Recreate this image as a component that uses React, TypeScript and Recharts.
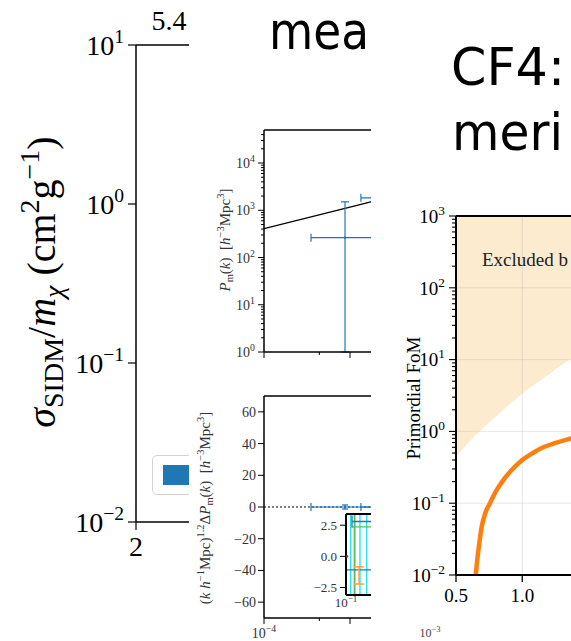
import React from 'react'
import {
  ComposedChart,
  Line,
  Area,
  Scatter,
  ErrorBar,
  XAxis,
  YAxis,
  ReferenceLine,
  ReferenceDot,
  Legend,
  CartesianGrid,
} from 'recharts'

const SERIF = '"Liberation Serif", "DejaVu Serif", serif'
const SANS = '"DejaVu Sans", "Liberation Sans", sans-serif'
const BLUE = '#1f77b4'
const ORANGE = '#ff7f0e'

// ---- left panel: SIDM cross section (mostly hidden behind the next panel)
const sidmDecades = [0.01, 0.1, 1, 10]
const sidmXTicks = [2, 4, 6, 8]
const sidmTopLabel = '5.4'
const sidmMass = [4.0, 5.0, 6.0, 7.0]
const sidmUpper = [3.0, 1.6, 0.9, 0.5]
const sidmLower = [0.01, 0.01, 0.01, 0.01]

// ---- middle panel: matter power spectrum
const kDecades = [1e-4, 1e-3, 1e-2, 1e-1]
const kTicks = [1e-4, 4.4e-4, 1e-3, 1e-2]
const kLabelled = [1e-4]
const pmDecades = [1, 10, 100, 1e3, 1e4]
const theoryK = [1e-4, 1e-3, 1e-2]
const theoryP = [410, 1170, 3350]
const binK = [8.75e-4, 3.33e-3]
const binKLo = [5.23e-4, 1.99e-3]
const binKHi = [1.3e-3, 2.5e-3]
const binP = [263, 1830]
const binPLo = [262, 900]
const binPHi = [1247, 1500]
const binResid = [0, 0]
const binResidErr = [1.3, 1.3]
const residTicks = [-60, -40, -20, 0, 20, 40, 60]

// inset of the residual plot
const insetTicks = [-2.5, 0, 2.5]
const cyanK = [0.1087, 0.1173, 0.1281, 0.1443]
const greenK = [0.1159]
const greenY = [2.37]
const blueK = [0.135, 0.2]
const blueY = [2.8, -1.08]
const blueKLo = [0.0238, 0.1]
const orangeK = [0.1259]
const orangeY = [-1.53]
const orangeErr = [0.69]
const redK = [0.1018]
const redY = [0]

// ---- right panel: primordial FoM
const fomDecades = [0.01, 0.1, 1, 10, 100, 1000]
const fomXTicks = [0.5, 1.0]
const fomX = [0.649, 0.66, 0.675, 0.694, 0.72, 0.756, 0.8, 0.857, 0.92, 1.0, 1.08, 1.158, 1.25, 1.335, 1.5, 1.75, 2.0, 2.25, 2.5]
const fomY = [0.01, 0.016, 0.027, 0.047, 0.072, 0.1, 0.145, 0.21, 0.29, 0.4, 0.5, 0.6, 0.69, 0.77, 0.9, 1.05, 1.2, 1.3, 1.4]
const edgeX = [0.5, 0.6, 0.7, 0.8, 0.9, 1.0, 1.1, 1.2, 1.3, 1.4, 1.6, 1.8, 2.0, 2.25, 2.5]
const edgeY = [0.44, 0.72, 1.1, 1.6, 2.35, 3.35, 4.6, 6.2, 8.5, 11, 18, 28, 42, 65, 100]

const SUBS = [2, 3, 4, 5, 6, 7, 8, 9]
const logMinors = (decades: number[], max: number) =>
  decades.flatMap((d) => SUBS.map((s) => s * d)).filter((v) => v < max)

const isIn = (arr: number[], v: number) => arr.some((a) => Math.abs(a - v) <= Math.abs(a) * 1e-9 + 1e-12)

const pow10 = (fs: number) => (v: number) => {
  const e = Math.round(Math.log10(v))
  return (
    <>
      <tspan>10</tspan>
      <tspan dy={-fs * 0.42} fontSize={fs * 0.7}>
        {e < 0 ? `\u2212${-e}` : `${e}`}
      </tspan>
    </>
  )
}

type TickCfg = {
  side: 'left' | 'bottom'
  majors: number[]
  label?: (v: number) => React.ReactNode
  major: number
  minor: number
  gap: number
  fs: number
  color?: string
  lw?: number
}

function tickRenderer(cfg: TickCfg) {
  const color = cfg.color ?? '#000'
  const lw = cfg.lw ?? 1
  return (p: any) => {
    const v = p.payload.value as number
    const maj = isIn(cfg.majors, v)
    const len = maj ? cfg.major : cfg.minor
    const lab = maj && cfg.label ? cfg.label(v) : null
    if (cfg.side === 'left') {
      return (
        <g>
          {len > 0 && <line x1={p.x - len} y1={p.y} x2={p.x} y2={p.y} stroke="#000" strokeWidth={lw} />}
          {lab != null && (
            <text x={p.x - len - cfg.gap} y={p.y + cfg.fs * 0.36} textAnchor="end" fontFamily={SERIF} fontSize={cfg.fs} fill={color}>
              {lab}
            </text>
          )}
        </g>
      )
    }
    return (
      <g>
        {len > 0 && <line x1={p.x} y1={p.y} x2={p.x} y2={p.y + len} stroke="#000" strokeWidth={lw} />}
        {lab != null && (
          <text x={p.x} y={p.y + len + cfg.gap + cfg.fs * 0.72} textAnchor="middle" fontFamily={SERIF} fontSize={cfg.fs} fill={color}>
            {lab}
          </text>
        )}
      </g>
    )
  }
}

const noTickLine = { tickSize: 0, tickMargin: 0, tickLine: false, interval: 0 as const, allowDataOverflow: true }

function SidmLegend(props: any) {
  const c = props.payload?.[0]?.color ?? BLUE
  return (
    <div
      style={{
        position: 'relative',
        width: 140,
        height: 40,
        boxSizing: 'border-box',
        border: '1.5px solid #d4d4d4',
        borderRadius: 5,
        background: 'rgba(255,255,255,0.8)',
      }}
    >
      <div style={{ position: 'absolute', left: 10, top: 9, width: 60, height: 20, background: c }} />
    </div>
  )
}

function SidmPanel() {
  const rows = sidmMass.map((m, i) => ({ m, band: [sidmLower[i], sidmUpper[i]] }))
  const spine = { stroke: '#000', strokeWidth: 1.5 }
  return (
    <div style={{ position: 'absolute', left: 0, top: 0, width: 560, height: 641 }}>
      <ComposedChart width={560} height={641} margin={{ top: 0, right: 20, bottom: 0, left: 0 }}>
        <XAxis
          dataKey="m"
          type="number"
          domain={[2, 8]}
          ticks={sidmXTicks}
          height={119}
          axisLine={spine}
          {...noTickLine}
          tick={tickRenderer({ side: 'bottom', majors: sidmXTicks, label: (v) => `${v}`, major: 8, minor: 0, gap: 6, fs: 28, lw: 1.2 })}
        />
        <XAxis xAxisId="top" orientation="top" type="number" domain={[0, 1]} height={45} tick={false} tickLine={false} axisLine={spine} />
        <YAxis
          type="number"
          scale="log"
          domain={[0.01, 10]}
          ticks={sidmDecades}
          width={136}
          axisLine={spine}
          {...noTickLine}
          tick={tickRenderer({ side: 'left', majors: sidmDecades, label: pow10(28), major: 8, minor: 0, gap: 4, fs: 28, lw: 1.2 })}
        />
        <Area data={rows} dataKey="band" fill={BLUE} stroke={BLUE} fillOpacity={1} isAnimationActive={false} />
        <Legend
          content={SidmLegend}
          layout="horizontal"
          verticalAlign="middle"
          align="center"
          wrapperStyle={{ left: 152, top: 455, width: 140, height: 40 }}
        />
      </ComposedChart>
      <svg width={200} height={641} style={{ position: 'absolute', left: 0, top: 0 }}>
        <text x={169} y={30} textAnchor="middle" fontFamily={SERIF} fontSize={28} fill="#000">
          {sidmTopLabel}
        </text>
        <text transform="translate(55,282) rotate(-90)" textAnchor="middle" fontFamily={SERIF} fontSize={40} fill="#000">
          <tspan fontStyle="italic">σ</tspan>
          <tspan fontSize={28} dy={8}>SIDM</tspan>
          <tspan dy={-8}>/</tspan>
          <tspan fontStyle="italic">m</tspan>
          <tspan fontStyle="italic" fontSize={28} dy={8}>χ</tspan>
          <tspan dy={-8}>{'\u00a0(cm'}</tspan>
          <tspan fontSize={28} dy={-16}>2</tspan>
          <tspan dy={16}>g</tspan>
          <tspan fontSize={28} dy={-16}>−1</tspan>
          <tspan dy={16}>)</tspan>
        </text>
      </svg>
    </div>
  )
}

function PowerPanel() {
  const bins = binK.map((k, i) => ({
    k,
    p: binP[i],
    ek: [binKLo[i], binKHi[i]],
    ep: [binPLo[i], binPHi[i]],
    d: binResid[i],
    ed: binResidErr[i],
  }))
  const theory = theoryK.map((k, i) => ({ k, p: theoryP[i] }))
  const cyan = cyanK.map((k) => ({ k, y: 0, ey: [3.1, 3.4] }))
  const green = greenK.map((k, i) => ({ k, y: greenY[i], ey: [greenY[i] + 3.1, 3.4 - greenY[i]], ex: [0.0047, 0.08] }))
  const blue = blueK.map((k, i) => ({ k, y: blueY[i], ex: [blueKLo[i], 0.1] }))
  const orange = orangeK.map((k, i) => ({ k, y: orangeY[i], ey: orangeErr[i] }))
  const red = redK.map((k, i) => ({ k, y: redY[i] }))

  const spine = { stroke: '#000', strokeWidth: 1.5 }
  const pmTicks = [...pmDecades, ...logMinors(pmDecades, 5e4)]
  const dot = (c: string, r: number) => (p: any) => <circle cx={p.cx} cy={p.cy} r={r} fill={c} />
  const none = () => <g />

  return (
    <div style={{ position: 'absolute', left: 189, top: 0, width: 382, height: 641, background: '#fff', overflow: 'hidden' }}>
      <div style={{ position: 'absolute', left: 0, top: 0 }}>
        <ComposedChart width={382} height={392} margin={{ top: 100, right: 49, bottom: 0, left: 0 }}>
          <XAxis
            dataKey="k"
            type="number"
            scale="log"
            domain={[1e-4, 1e-1]}
            ticks={kTicks}
            height={40}
            axisLine={spine}
            {...noTickLine}
            tick={tickRenderer({ side: 'bottom', majors: kDecades, major: 6, minor: 3, gap: 3, fs: 14 })}
          />
          <XAxis xAxisId="top" orientation="top" type="number" domain={[0, 1]} height={30} tick={false} tickLine={false} axisLine={spine} />
          <YAxis
            type="number"
            scale="log"
            domain={[1, 5e4]}
            ticks={pmTicks}
            width={75}
            axisLine={spine}
            {...noTickLine}
            tick={tickRenderer({ side: 'left', majors: pmDecades, label: pow10(14), major: 6, minor: 3, gap: 3, fs: 14, color: '#333' })}
          />
          <Line data={theory} dataKey="p" stroke="#000" strokeWidth={1.3} dot={false} type="linear" isAnimationActive={false} />
          <Scatter data={bins} dataKey="p" fill={BLUE} shape={dot(BLUE, 1.2)} isAnimationActive={false}>
            <ErrorBar dataKey="ek" direction="x" stroke={BLUE} strokeWidth={1.2} width={4} />
            <ErrorBar dataKey="ep" direction="y" stroke={BLUE} strokeWidth={1.2} width={4} />
          </Scatter>
        </ComposedChart>
      </div>

      <div style={{ position: 'absolute', left: 0, top: 0 }}>
        <ComposedChart width={382} height={641} margin={{ top: 366, right: 49, bottom: 0, left: 0 }}>
          <XAxis
            dataKey="k"
            type="number"
            scale="log"
            domain={[1e-4, 1e-1]}
            ticks={kTicks}
            height={23}
            axisLine={spine}
            {...noTickLine}
            tick={tickRenderer({
              side: 'bottom',
              majors: kDecades,
              label: (v) => (isIn(kLabelled, v) ? pow10(14)(v) : null),
              major: 6,
              minor: 3,
              gap: 4,
              fs: 14,
              color: '#333',
            })}
          />
          <XAxis xAxisId="top" orientation="top" type="number" domain={[0, 1]} height={30} tick={false} tickLine={false} axisLine={spine} />
          <YAxis
            type="number"
            domain={[-70, 70]}
            ticks={residTicks}
            width={75}
            axisLine={spine}
            {...noTickLine}
            tick={tickRenderer({
              side: 'left',
              majors: residTicks,
              label: (v) => (v < 0 ? `\u2212${-v}` : `${v}`),
              major: 6,
              minor: 0,
              gap: 2,
              fs: 14,
              color: '#333',
            })}
          />
          <ReferenceLine y={0} stroke="#000" strokeWidth={1} strokeDasharray="2 2" />
          <Scatter data={bins} dataKey="d" fill={BLUE} shape={dot(BLUE, 1.2)} isAnimationActive={false}>
            <ErrorBar dataKey="ek" direction="x" stroke={BLUE} strokeWidth={1.2} width={4} />
            <ErrorBar dataKey="ed" direction="y" stroke={BLUE} strokeWidth={1.2} width={3} />
          </Scatter>
        </ComposedChart>
      </div>

      <div style={{ position: 'absolute', left: 100, top: 500 }}>
        <ComposedChart width={282} height={141} margin={{ top: 0, right: 95, bottom: 0, left: 0 }}>
          <CartesianGrid fill="#fff" horizontal={false} vertical={false} />
          <XAxis
            dataKey="k"
            type="number"
            scale="log"
            domain={[0.1, 1]}
            ticks={[0.1]}
            height={46}
            axisLine={{ stroke: '#000', strokeWidth: 2 }}
            {...noTickLine}
            tick={tickRenderer({ side: 'bottom', majors: [0.1], label: pow10(13), major: 0, minor: 0, gap: 3, fs: 13, color: '#333' })}
          />
          <XAxis xAxisId="top" orientation="top" type="number" domain={[0, 1]} height={14} tick={false} tickLine={false} axisLine={{ stroke: '#000', strokeWidth: 2 }} />
          <YAxis
            type="number"
            domain={[-3.1, 3.4]}
            ticks={insetTicks}
            width={57}
            axisLine={{ stroke: '#000', strokeWidth: 2 }}
            {...noTickLine}
            tick={tickRenderer({
              side: 'left',
              majors: insetTicks,
              label: (v) => (v < 0 ? `\u2212${(-v).toFixed(1)}` : v.toFixed(1)),
              major: 6,
              minor: 0,
              gap: 3,
              fs: 13,
              color: '#333',
            })}
          />
          <Scatter data={cyan} dataKey="y" shape={none} isAnimationActive={false}>
            <ErrorBar dataKey="ey" direction="y" stroke="#19e3f5" strokeWidth={1.3} width={0} />
          </Scatter>
          <Scatter data={green} dataKey="y" shape={none} isAnimationActive={false}>
            <ErrorBar dataKey="ey" direction="y" stroke="#5cb85c" strokeWidth={1.3} width={0} />
            <ErrorBar dataKey="ex" direction="x" stroke="#5cb85c" strokeWidth={1.3} width={0} />
          </Scatter>
          <Scatter data={blue} dataKey="y" shape={none} isAnimationActive={false}>
            <ErrorBar dataKey="ex" direction="x" stroke={BLUE} strokeWidth={1.3} width={6} />
          </Scatter>
          <Scatter data={orange} dataKey="y" shape={none} isAnimationActive={false}>
            <ErrorBar dataKey="ey" direction="y" stroke="#ff9f45" strokeWidth={1.5} width={5} />
          </Scatter>
          <Scatter data={red} dataKey="y" shape={dot('#b03020', 1.3)} isAnimationActive={false} />
        </ComposedChart>
      </div>

      <svg width={382} height={641} style={{ position: 'absolute', left: 0, top: 0, pointerEvents: 'none' }}>
        <text x={80} y={49} fontFamily={SANS} fontSize={52} textLength={100} lengthAdjust="spacingAndGlyphs" fill="#000">
          mea
        </text>
        <text transform="translate(41,240) rotate(-90)" textAnchor="middle" fontFamily={SERIF} fontSize={15} fill="#333">
          <tspan fontStyle="italic">P</tspan>
          <tspan fontSize={10.5} dy={3}>m</tspan>
          <tspan dy={-3}>(</tspan>
          <tspan fontStyle="italic">k</tspan>
          <tspan>{')\u00a0\u00a0['}</tspan>
          <tspan fontStyle="italic">h</tspan>
          <tspan fontSize={10.5} dy={-6}>−3</tspan>
          <tspan dy={6}>Mpc</tspan>
          <tspan fontSize={10.5} dy={-6}>3</tspan>
          <tspan dy={6}>]</tspan>
        </text>
        <text transform="translate(21,508) rotate(-90)" textAnchor="middle" fontFamily={SERIF} fontSize={15} fill="#333">
          <tspan>(</tspan>
          <tspan fontStyle="italic">k</tspan>
          <tspan fontStyle="italic">{'\u00a0h'}</tspan>
          <tspan fontSize={10.5} dy={-6}>−1</tspan>
          <tspan dy={6}>Mpc)</tspan>
          <tspan fontSize={10.5} dy={-6}>1.2</tspan>
          <tspan dy={6}>Δ</tspan>
          <tspan fontStyle="italic">P</tspan>
          <tspan fontSize={10.5} dy={3}>m</tspan>
          <tspan dy={-3}>(</tspan>
          <tspan fontStyle="italic">k</tspan>
          <tspan>{')\u00a0\u00a0['}</tspan>
          <tspan fontStyle="italic">h</tspan>
          <tspan fontSize={10.5} dy={-6}>−3</tspan>
          <tspan dy={6}>Mpc</tspan>
          <tspan fontSize={10.5} dy={-6}>3</tspan>
          <tspan dy={6}>]</tspan>
        </text>
      </svg>
    </div>
  )
}

function FomPanel() {
  const curve = fomX.map((x, i) => ({ x, fom: fomY[i] }))
  const excluded = edgeX.map((x, i) => ({ x, band: [edgeY[i], 1000] }))
  const spine = { stroke: '#000', strokeWidth: 2 }
  const yTicks = [...fomDecades, ...logMinors(fomDecades, 1000)]
  const gridY = fomDecades.slice(1, -1)
  const gridX = fomXTicks.slice(1)
  return (
    <div style={{ position: 'absolute', left: 371, top: 0, width: 200, height: 641, background: '#fff', overflow: 'hidden' }}>
      <ComposedChart width={370} height={641} margin={{ top: 200, right: 20, bottom: 0, left: 0 }}>
        <XAxis
          dataKey="x"
          type="number"
          domain={[0.5, 2.5]}
          ticks={fomXTicks}
          height={66}
          axisLine={spine}
          {...noTickLine}
          tick={tickRenderer({ side: 'bottom', majors: fomXTicks, label: (v) => v.toFixed(1), major: 7, minor: 0, gap: 6, fs: 19, lw: 1.3 })}
        />
        <XAxis xAxisId="top" orientation="top" type="number" domain={[0, 1]} height={16} tick={false} tickLine={false} axisLine={spine} />
        <YAxis
          type="number"
          scale="log"
          domain={[0.01, 1000]}
          ticks={yTicks}
          width={85}
          axisLine={spine}
          {...noTickLine}
          tick={tickRenderer({ side: 'left', majors: fomDecades, label: pow10(19), major: 7, minor: 4, gap: 4, fs: 19, lw: 1.1 })}
        />
        <Area data={excluded} dataKey="band" fill="#fdebd0" fillOpacity={1} stroke="none" type="monotone" isAnimationActive={false} />
        {gridY.map((v) => (
          <ReferenceLine key={`gy${v}`} y={v} stroke="#b0b0b0" strokeOpacity={0.3} strokeWidth={1} />
        ))}
        {gridX.map((v) => (
          <ReferenceLine key={`gx${v}`} x={v} stroke="#b0b0b0" strokeOpacity={0.3} strokeWidth={1} />
        ))}
        <Line data={curve} dataKey="fom" stroke={ORANGE} strokeWidth={4.5} dot={false} type="monotone" isAnimationActive={false} />
        <ReferenceDot
          x={0.696}
          y={250}
          r={0}
          label={{
            content: (p: any) => (
              <text x={p.viewBox.x} y={p.viewBox.y + 7} fontFamily={SERIF} fontSize={19} fill="#222">
                Excluded b
              </text>
            ),
          }}
        />
      </ComposedChart>
      <svg width={200} height={641} style={{ position: 'absolute', left: 0, top: 0, pointerEvents: 'none' }}>
        <text x={80} y={85} fontFamily={SANS} fontSize={52} textLength={114} lengthAdjust="spacingAndGlyphs" fill="#000">
          CF4:
        </text>
        <text x={81} y={150} fontFamily={SANS} fontSize={52} textLength={111} lengthAdjust="spacingAndGlyphs" fill="#000">
          meri
        </text>
        <text transform="translate(49,398) rotate(-90)" textAnchor="middle" fontFamily={SERIF} fontSize={19} fill="#000">
          Primordial FoM
        </text>
        <text x={59} y={637} textAnchor="middle" fontFamily={SERIF} fontSize={12} fill="#444">
          <tspan>10</tspan>
          <tspan fontSize={8.5} dy={-5}>−3</tspan>
        </text>
      </svg>
    </div>
  )
}

export default function App() {
  return (
    <div style={{ position: 'fixed', left: 0, top: 0, width: 571, height: 641, overflow: 'hidden', background: '#fff' }}>
      <SidmPanel />
      <PowerPanel />
      <FomPanel />
    </div>
  )
}
